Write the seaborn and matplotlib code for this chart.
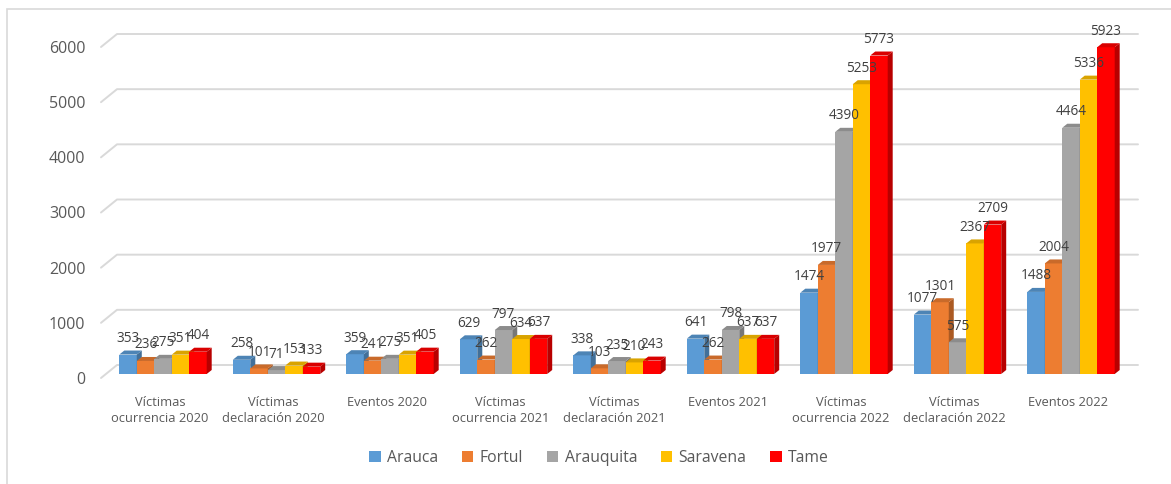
import matplotlib
matplotlib.use("Agg")
import matplotlib.pyplot as plt
import matplotlib.transforms as mtransforms
from matplotlib.patches import Polygon, Rectangle, Patch
from matplotlib.lines import Line2D
import numpy as np
import pandas as pd
import seaborn as sns

# --- data -------------------------------------------------------------
categories = [
    "Víctimas\nocurrencia 2020", "Víctimas\ndeclaración 2020", "Eventos 2020",
    "Víctimas\nocurrencia 2021", "Víctimas\ndeclaración 2021", "Eventos 2021",
    "Víctimas\nocurrencia 2022", "Víctimas\ndeclaración 2022", "Eventos 2022",
]
municipios = ["Arauca", "Fortul", "Arauquita", "Saravena", "Tame"]
arauca = [353, 258, 359, 629, 338, 641, 1474, 1077, 1488]
fortul = [236, 101, 241, 262, 103, 262, 1977, 1301, 2004]
arauquita = [275, 71, 275, 797, 235, 798, 4390, 575, 4464]
saravena = [351, 153, 351, 634, 210, 637, 5253, 2367, 5336]
tame = [404, 133, 405, 637, 243, 637, 5773, 2709, 5923]
y_ticks = [0, 1000, 2000, 3000, 4000, 5000, 6000]

series = [arauca, fortul, arauquita, saravena, tame]
colors = ["#5B9BD5", "#ED7D31", "#A5A5A5", "#FFC000", "#FF0000"]

df = pd.DataFrame({
    "categoria": np.repeat([categories], len(municipios), axis=0).ravel(),
    "municipio": np.repeat(municipios, len(categories)),
    "valor": np.concatenate(series),
})

# --- figure -----------------------------------------------------------
sns.set_theme(style="white")
plt.rcParams["font.family"] = ["Open Sans", "DejaVu Sans"]
DPI = 100
W, H = 1171, 484
fig = plt.figure(figsize=(W / DPI, H / DPI), dpi=DPI)
fig.patch.set_facecolor("white")

ax_left, ax_right = 106.25, 1127.75
ax_bottom, ax_top = 374, 43
ax = fig.add_axes([ax_left / W, (H - ax_bottom) / H,
                   (ax_right - ax_left) / W, (ax_bottom - ax_top) / H])
ax.set_facecolor("none")

sns.barplot(data=df, x="categoria", y="valor", hue="municipio",
            hue_order=municipios, order=categories, palette=colors,
            saturation=1, width=0.77, ax=ax, legend=False, errorbar=None)

ax.set_xlim(-0.5, len(categories) - 0.5)
ax.set_ylim(0, 6000)
for s in ax.spines.values():
    s.set_visible(False)
ax.set_xlabel("")
ax.set_ylabel("")
ax.tick_params(axis="both", length=0)
ax.set_yticks(y_ticks)
ax.set_yticklabels([str(v) for v in y_ticks], fontsize=11.5, color="#595959")
ax.tick_params(axis="y", pad=15)
ax.tick_params(axis="x", pad=15.5)
ax.set_xticks(range(len(categories)))
ax.set_xticklabels(categories, fontsize=9.3, color="#595959", linespacing=1.35)
shift_down = mtransforms.ScaledTranslation(0, -4 / DPI, fig.dpi_scale_trans)
for lbl in ax.get_yticklabels():
    lbl.set_transform(lbl.get_transform() + shift_down)
shift_left = mtransforms.ScaledTranslation(-3 / DPI, 0, fig.dpi_scale_trans)
for lbl in ax.get_xticklabels():
    lbl.set_transform(lbl.get_transform() + shift_left)

fig.canvas.draw()
to_disp = ax.transData.transform
ident = mtransforms.IdentityTransform()

# back-wall gridlines with a short perspective stroke on the left
for v in y_ticks:
    _, yd = to_disp((0, v))
    xs = [101, 117, 1138]
    ys = [yd - 4, yd + 9, yd + 9]
    ax.add_line(Line2D(xs, ys, transform=ident, color="#D9D9D9",
                       lw=1.4, zorder=0.5, clip_on=False))

# 3D depth faces for each bar
dx, dy = 5, 4


def shade(hex_color, f):
    r, g, b = matplotlib.colors.to_rgb(hex_color)
    return (r * f, g * f, b * f)


for k, (container, col, vals) in enumerate(zip(ax.containers, colors, series)):
    for bar, v in zip(container.patches, vals):
        bar.set_zorder(3 + k)
        bar.set_linewidth(0)
        x0 = bar.get_x()
        x1 = x0 + bar.get_width()
        (px0, py0) = to_disp((x0, 0))
        (px1, py1) = to_disp((x1, bar.get_height()))
        side = Polygon([(px1, py0), (px1, py1), (px1 + dx, py1 + dy),
                        (px1 + dx, py0 + dy)], closed=True, transform=ident,
                       facecolor=shade(col, 0.72), edgecolor="none",
                       zorder=3 + k, clip_on=False)
        top = Polygon([(px0, py1), (px1, py1), (px1 + dx, py1 + dy),
                       (px0 + dx, py1 + dy)], closed=True, transform=ident,
                      facecolor=shade(col, 0.85), edgecolor="none",
                      zorder=3 + k, clip_on=False)
        ax.add_patch(side)
        ax.add_patch(top)
        ax.annotate(str(v), xy=((x0 + x1) / 2, bar.get_height()),
                    xytext=(0, 16), textcoords="offset pixels",
                    ha="center", va="center", fontsize=9.8,
                    color="#404040", zorder=20, annotation_clip=False)

# legend
handles = [Patch(facecolor=c, edgecolor="none", label=m)
           for m, c in zip(municipios, colors)]
fig.legend(handles=handles, loc="center", bbox_to_anchor=(599 / W, (H - 458) / H),
           ncol=5, frameon=False, fontsize=11.3, labelcolor="#595959",
           handlelength=0.75, handleheight=0.75, handletextpad=0.4,
           columnspacing=1.5)

# chart area border
fig.add_artist(Rectangle((7, -10), 1300, H - 9 + 10, transform=None,
                         facecolor="none", edgecolor="#D9D9D9", lw=1.2,
                         zorder=0.2))

fig.savefig("out.png", dpi=DPI)
